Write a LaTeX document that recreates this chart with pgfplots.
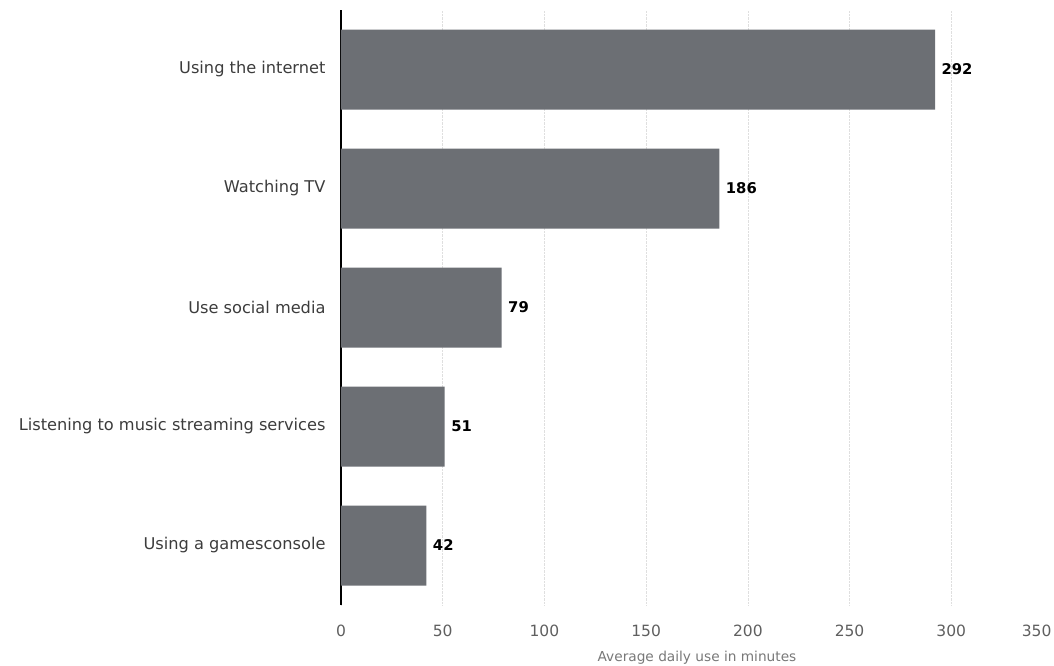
\documentclass[border=0pt]{standalone}
\usepackage{pgfplots}
\pgfplotsset{compat=1.18}
\usepackage{fontspec}
\setmainfont{DejaVu Sans}
\definecolor{barcol}{RGB}{108,111,116}
\definecolor{labcol}{RGB}{60,60,60}
\definecolor{tickcol}{RGB}{95,95,95}
\definecolor{titcol}{RGB}{120,120,120}
\begin{document}
\begin{tikzpicture}[x=1pt,y=1pt]
\useasboundingbox (-341,-60) rectangle (713,605);
\begin{axis}[
  at={(0,0)}, anchor=south west,
  scale only axis, width=712pt, height=595pt,
  xbar, bar width=80pt,
  xmin=0, xmax=350, ymin=-0.5, ymax=4.5,
  ytick={0,1,2,3,4},
  yticklabels={Using a gamesconsole, Listening to music streaming services, Use social media, Watching TV, Using the internet},
  xtick={0,50,100,150,200,250,300},
  extra x ticks={350},
  extra x tick style={grid=none, xticklabel style={anchor=north east, xshift=2pt}},
  major tick length=0pt,
  axis lines*=left,
  axis line style={-},
  x axis line style={draw=none},
  y axis line style={black, line width=1.1pt},
  xmajorgrids,
  grid style={densely dotted, gray!25, line width=0.5pt},
  yticklabel style={font=\fontsize{16.2}{18}\selectfont, text=labcol, xshift=-12pt},
  xticklabel style={font=\fontsize{15.5}{18}\selectfont, text=tickcol, yshift=-16pt},
  /pgf/number format/assume math mode=true,
  xlabel={Average daily use in minutes},
  xlabel style={font=\fontsize{13.7}{16}\selectfont, text=titcol, yshift=-8pt},
  nodes near coords,
  nodes near coords style={font=\fontsize{14.8}{17}\selectfont\bfseries, text=black, anchor=west, xshift=3pt},
  point meta=x,
]
\addplot[fill=barcol, draw=none] coordinates {(42,0) (51,1) (79,2) (186,3) (292,4)};
\end{axis}
\end{tikzpicture}
\end{document}
